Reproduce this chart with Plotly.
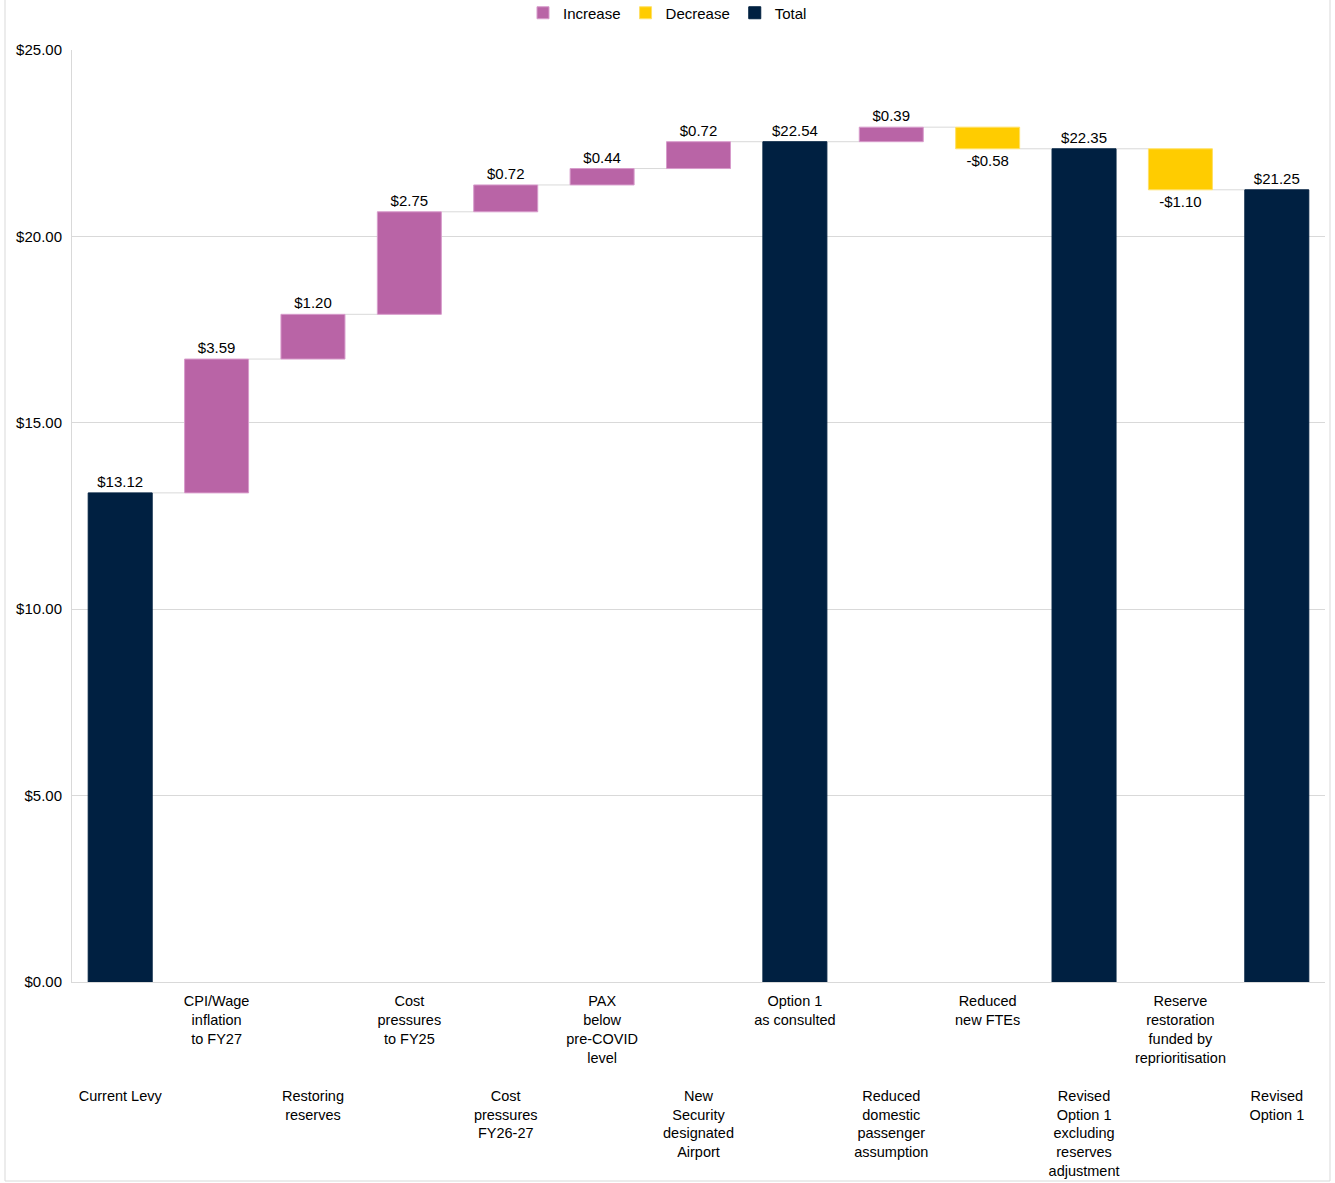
import plotly.graph_objects as go

categories = [
    "Current Levy",
    "CPI/Wage<br>inflation<br>to FY27",
    "Restoring<br>reserves",
    "Cost<br>pressures<br>to FY25",
    "Cost<br>pressures<br>FY26-27",
    "PAX<br>below<br>pre-COVID<br>level",
    "New<br>Security<br>designated<br>Airport",
    "Option 1<br>as consulted",
    "Reduced<br>domestic<br>passenger<br>assumption",
    "Reduced<br>new FTEs",
    "Revised<br>Option 1<br>excluding<br>reserves<br>adjustment",
    "Reserve<br>restoration<br>funded by<br>reprioritisation",
    "Revised<br>Option 1",
]
values = [13.12, 3.59, 1.20, 2.75, 0.72, 0.44, 0.72, 22.54, 0.39, -0.58, 22.35, -1.10, 21.25]
measures = ["total", "relative", "relative", "relative", "relative", "relative", "relative",
            "total", "relative", "relative", "total", "relative", "total"]
y_ticks = [0, 5, 10, 15, 20, 25]

INC = "#B964A6"
DEC = "#FFCC00"
TOT = "#002041"
GRID = "#D9D9D9"
FONT = "Liberation Sans, Arial, sans-serif"
BAR_W = 0.664

# compute bases / heights / running levels
bases, heights, levels = [], [], []
running = 0.0
for v, m in zip(values, measures):
    if m == "total":
        bases.append(0.0)
        heights.append(v)
        running = v
    else:
        bases.append(running)
        heights.append(v)
        running = running + v
    levels.append(running)


def fmt(v):
    return ("-$%.2f" % abs(v)) if v < 0 else ("$%.2f" % v)


groups = {
    "Increase": ([i for i, (v, m) in enumerate(zip(values, measures)) if m == "relative" and v >= 0], INC, "#D79BCB"),
    "Decrease": ([i for i, (v, m) in enumerate(zip(values, measures)) if m == "relative" and v < 0], DEC, "#FFE066"),
    "Total": ([i for i, m in enumerate(measures) if m == "total"], TOT, TOT),
}

fig = go.Figure()
for name, (idx, col, edge) in groups.items():
    fig.add_trace(go.Bar(
        name=name,
        x=idx,
        y=[heights[i] for i in idx],
        base=[bases[i] for i in idx],
        width=BAR_W,
        marker=dict(color=col, line=dict(color=edge, width=1)),
        text=[fmt(values[i]) for i in idx],
        textposition="outside",
        textfont=dict(family=FONT, size=15, color="#000000"),
        cliponaxis=False,
        hoverinfo="skip",
    ))

# connectors
for i in range(len(values) - 1):
    fig.add_shape(type="line", xref="x", yref="y",
                  x0=i + BAR_W / 2, x1=i + 1 - BAR_W / 2,
                  y0=levels[i], y1=levels[i],
                  line=dict(color=GRID, width=1), layer="below")

# outer border
fig.add_shape(type="rect", xref="paper", yref="paper",
              x0=(5 - 72) / 1253, x1=(1330 - 72) / 1253,
              y0=(982 - 1181) / 932, y1=(982 + 5) / 932,
              line=dict(color=GRID, width=1), layer="below")

ticktext = [("<br>" * 5 + c) if i % 2 == 0 else c for i, c in enumerate(categories)]
ytext = [fmt(v) for v in y_ticks]

fig.update_layout(
    width=1335, height=1183,
    margin=dict(l=72, r=10, t=50, b=201, autoexpand=False),
    paper_bgcolor="white", plot_bgcolor="white",
    barmode="overlay",
    font=dict(family=FONT, size=15, color="#000000"),
    showlegend=True,
    legend=dict(orientation="h", xref="container", yref="paper", x=0.5, xanchor="center",
                y=(982 - 13) / 932, yanchor="middle", font=dict(size=15), traceorder="normal",
                itemwidth=30, bgcolor="rgba(0,0,0,0)"),
    xaxis=dict(tickmode="array", tickvals=list(range(len(categories))), ticktext=ticktext,
               range=[-0.5, len(categories) - 0.5], showgrid=False, showline=True,
               linecolor=GRID, ticks="", tickangle=0, zeroline=False, automargin=False,
               tickfont=dict(size=14.5), ticklabelstandoff=6),
    yaxis=dict(range=[0, 25], tickmode="array", tickvals=y_ticks, ticktext=ytext,
               showgrid=True, gridcolor=GRID, showline=True, linecolor=GRID,
               zeroline=False, ticks="", ticklabelstandoff=6, automargin=False),
)

fig.write_html("out.html")
